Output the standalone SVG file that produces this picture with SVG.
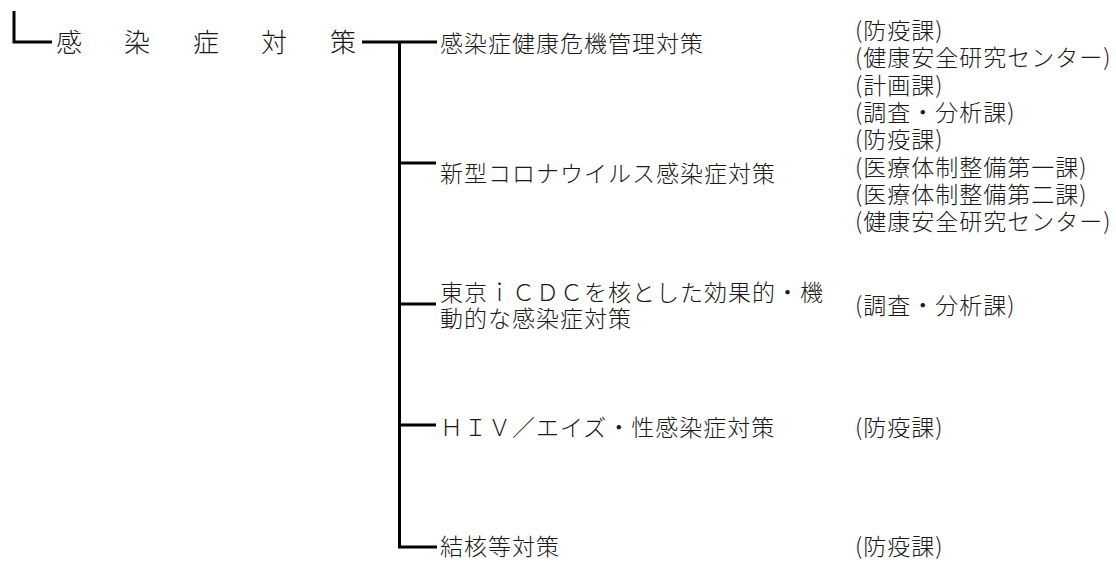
<svg xmlns="http://www.w3.org/2000/svg" width="1116" height="561" viewBox="0 0 1116 561">
  <style>
    .t { font-family: "Noto Sans CJK JP", "Noto Sans", sans-serif; font-size: 23px; letter-spacing: 1px; font-weight: 300; fill: #1a1a1a; }
    .title { font-family: "Noto Sans CJK JP", "Noto Sans", sans-serif; font-size: 26px; font-weight: 300; fill: #1a1a1a; }
    .ln { stroke: #000; stroke-width: 3; fill: none; stroke-linejoin: miter; stroke-linecap: butt; }
  </style>
  <rect width="1116" height="561" fill="#fff"/>

  <g id="connectors">
    <path class="ln" d="M14,11 V42 H52"/>
    <path class="ln" d="M362,42 H437"/>
    <path class="ln" d="M399.5,42 V547 H437"/>
    <path class="ln" d="M399.5,163 H436"/>
    <path class="ln" d="M399.5,304 H436"/>
    <path class="ln" d="M399.5,425 H436"/>
  </g>

  <g id="node-root">
    <text class="title" x="56 124 193 261 330" y="52">感染症対策</text>
  </g>

  <g id="node-kiki">
    <text class="t" x="440" y="52">感染症健康危機管理対策</text>
    <text class="t" x="855" y="39">(防疫課)</text>
    <text class="t" x="855" y="66">(健康安全研究センター)</text>
    <text class="t" x="855" y="94">(計画課)</text>
    <text class="t" x="855" y="121">(調査・分析課)</text>
  </g>

  <g id="node-corona">
    <text class="t" x="440" y="182">新型コロナウイルス感染症対策</text>
    <text class="t" x="855" y="148">(防疫課)</text>
    <text class="t" x="855" y="176">(医療体制整備第一課)</text>
    <text class="t" x="855" y="203">(医療体制整備第二課)</text>
    <text class="t" x="855" y="230">(健康安全研究センター)</text>
  </g>

  <g id="node-icdc">
    <text class="t" x="440" y="301">東京ｉＣＤＣを核とした効果的・機</text>
    <text class="t" x="440" y="327">動的な感染症対策</text>
    <text class="t" x="855" y="314">(調査・分析課)</text>
  </g>

  <g id="node-hiv">
    <text class="t" x="440" y="436">ＨＩＶ／エイズ・性感染症対策</text>
    <text class="t" x="855" y="436">(防疫課)</text>
  </g>

  <g id="node-kekkaku">
    <text class="t" x="440" y="555">結核等対策</text>
    <text class="t" x="855" y="555">(防疫課)</text>
  </g>
</svg>
